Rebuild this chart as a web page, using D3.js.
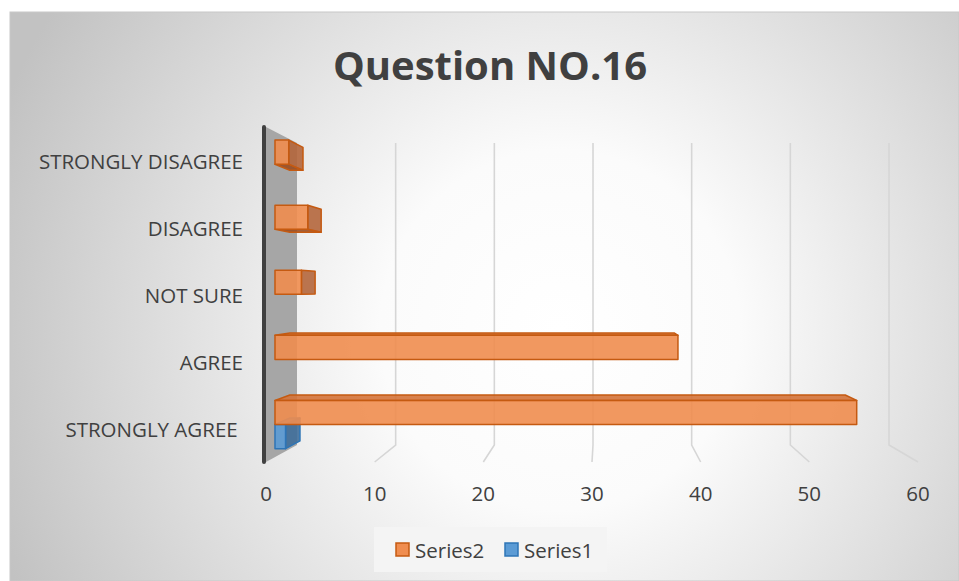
<!DOCTYPE html>
<html><head><meta charset="utf-8">
<script src="https://cdn.jsdelivr.net/npm/d3@7"></script>
<style>
html,body{margin:0;padding:0;background:#fff;}
svg{display:block;}
text{font-family:"Open Sans",sans-serif;fill:#404040;}
</style>
</head><body><svg id="chart" width="959" height="581"></svg>
<script>
// ---- data ----
const chartTitle = "Question NO.16";
const categories = ["STRONGLY AGREE ", "AGREE", "NOT SURE", "DISAGREE", "STRONGLY DISAGREE"]; // bottom -> top
const seriesNames = ["Series1", "Series2"];
const series1 = [1, 0, 0, 0, 0];
const series2 = [55, 38.1, 2.5, 3.1, 1.3];
const xTicks = [0, 10, 20, 30, 40, 50, 60];
const legendOrder = ["Series2", "Series1"];

// ---- styles ----
const palette = {
  Series2: {front: "#F08D4F", top: "#D4733A", side: "#B4663C", bottom: "#9A4E22", stroke: "#C55A11"},
  Series1: {front: "#5B9BD5", top: "#4A84BC", side: "#3F6E9A", bottom: "#34597E", stroke: "#2E75B6"}
};

const svg = d3.select("#chart");
const W = 959, H = 581;

// background gradient
const defs = svg.append("defs");
const rg = defs.append("radialGradient").attr("id", "bg")
  .attr("gradientUnits", "userSpaceOnUse")
  .attr("cx", 560).attr("cy", 330).attr("r", 600);
rg.append("stop").attr("offset", 0).attr("stop-color", "#ffffff");
rg.append("stop").attr("offset", 0.3).attr("stop-color", "#fbfbfb");
rg.append("stop").attr("offset", 1).attr("stop-color", "#c2c2c2");

svg.append("rect").attr("x", 10).attr("y", 12).attr("width", W - 10).attr("height", H - 12)
  .attr("fill", "url(#bg)").attr("stroke", "#c8c8c8").attr("stroke-width", 1);

// ---- 3D projection scales ----
const xFront = d3.scaleLinear().domain([0, 60]).range([266, 918]);
const xBack  = d3.scaleLinear().domain([0, 60]).range([297, 889]);
const yFront = d3.scaleLinear().domain([0, 1]).range([462, 127]);
const yBack  = d3.scaleLinear().domain([0, 1]).range([445, 143]);
const band = d3.scaleBand().domain(categories).range([0, 1]);
const sub = d3.scaleBand().domain(seriesNames).range([0, band.bandwidth()]).paddingOuter(0.35);
const zNear = 0.29, zFar = 0.77;

function P(v, c, z) {
  return [xFront(v) + (xBack(v) - xFront(v)) * z, yFront(c) + (yBack(c) - yFront(c)) * z];
}
const poly = pts => "M" + pts.map(p => p.join(",")).join("L") + "Z";

// gridlines: back wall + floor
const grid = svg.append("g");
xTicks.filter(t => t > 0).forEach(t => {
  grid.append("path")
    .attr("d", "M" + P(t, 1, 1).join(",") + "L" + P(t, 0, 1).join(",") + "L" + P(t, 0, 0).join(","))
    .attr("fill", "none").attr("stroke", "#d6d6d6").attr("stroke-width", 1.6);
});

// side wall
svg.append("path")
  .attr("d", poly([P(0, 0, 0), P(0, 1, 0), P(0, 1, 1), P(0, 0, 1)]))
  .attr("fill", "#a6a6a6");
// category axis line
svg.append("line")
  .attr("x1", P(0, 0, 0)[0] - 2).attr("x2", P(0, 1, 0)[0] - 2)
  .attr("y1", P(0, 0, 0)[1]).attr("y2", P(0, 1, 0)[1])
  .attr("stroke", "#404040").attr("stroke-width", 4).attr("stroke-linecap", "round");

// bars
const bars = svg.append("g");
const seriesData = {Series1: series1, Series2: series2};
seriesNames.forEach(s => {
  const col = palette[s];
  categories.forEach((cat, i) => {
    const v = seriesData[s][i];
    if (!(v > 0)) return;
    const c0 = band(cat) + sub(s), c1 = c0 + sub.bandwidth();
    const g = bars.append("g").attr("stroke", col.stroke).attr("stroke-width", 1.5)
      .attr("stroke-linejoin", "round").attr("fill-opacity", 0.9);
    // top face
    if (P(v, c1, zFar)[1] < P(v, c1, zNear)[1])
      g.append("path").attr("d", poly([P(0, c1, zNear), P(v, c1, zNear), P(v, c1, zFar), P(0, c1, zFar)])).attr("fill", col.top);
    // bottom face
    if (P(v, c0, zFar)[1] > P(v, c0, zNear)[1])
      g.append("path").attr("d", poly([P(0, c0, zNear), P(v, c0, zNear), P(v, c0, zFar), P(0, c0, zFar)])).attr("fill", col.bottom);
    // end face
    if (P(v, c0, zFar)[0] > P(v, c0, zNear)[0])
      g.append("path").attr("d", poly([P(v, c0, zNear), P(v, c1, zNear), P(v, c1, zFar), P(v, c0, zFar)])).attr("fill", col.side);
    // front face
    g.append("path").attr("d", poly([P(0, c0, zNear), P(v, c0, zNear), P(v, c1, zNear), P(0, c1, zNear)])).attr("fill", col.front);
  });
});

// category labels
svg.append("g").selectAll("text").data(categories).join("text")
  .attr("x", xFront(0) - 23)
  .attr("y", d => yFront(band(d) + band.bandwidth() / 2))
  .attr("text-anchor", "end").attr("dominant-baseline", "central")
  .style("white-space", "pre")
  .attr("font-size", 20.5)
  .text(d => d);

// value labels
svg.append("g").selectAll("text").data(xTicks).join("text")
  .attr("x", d => xFront(d))
  .attr("y", yFront(0) + 31)
  .attr("text-anchor", "middle").attr("dominant-baseline", "central")
  .attr("font-size", 20.5)
  .text(d => d);

// title
svg.append("text").attr("x", 490).attr("y", 64)
  .attr("text-anchor", "middle").attr("dominant-baseline", "central")
  .attr("font-size", 40).attr("font-weight", "bold")
  .text(chartTitle);

// legend
const lg = svg.append("g");
lg.append("rect").attr("x", 374).attr("y", 527).attr("width", 233).attr("height", 45).attr("fill", "#f4f4f4");
const legX = [396, 505];
legendOrder.forEach((s, i) => {
  lg.append("rect").attr("x", legX[i]).attr("y", 543).attr("width", 13).attr("height", 13)
    .attr("fill", palette[s].front).attr("stroke", palette[s].stroke).attr("stroke-width", 1.5);
  lg.append("text").attr("x", legX[i] + 19).attr("y", 550)
    .attr("dominant-baseline", "central").attr("font-size", 20.5).text(s);
});
</script>
</body></html>
